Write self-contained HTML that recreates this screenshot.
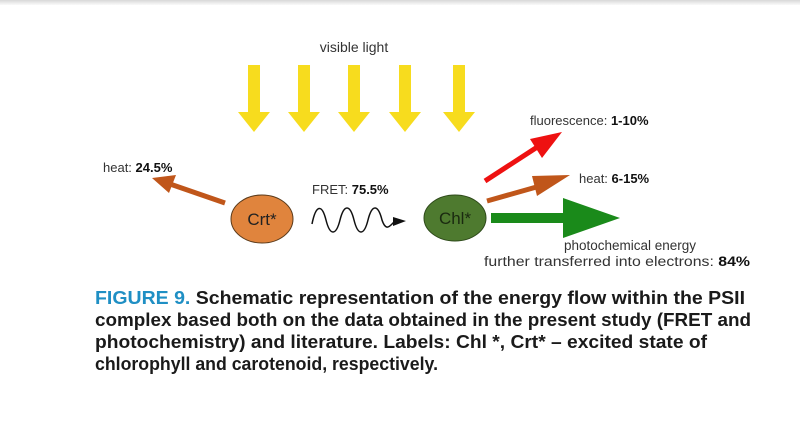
<!DOCTYPE html>
<html><head><meta charset="utf-8"><style>
html,body{margin:0;padding:0;background:#fff;}
svg{display:block;}
</style></head><body>
<svg width="800" height="440" viewBox="0 0 800 440" xmlns="http://www.w3.org/2000/svg" font-family="Liberation Sans, DejaVu Sans, sans-serif">
<defs>
<linearGradient id="tg" x1="0" y1="0" x2="0" y2="1"><stop offset="0" stop-color="#d8d8d8"/><stop offset="1" stop-color="#fafafa"/></linearGradient>
</defs>
<rect x="0" y="0" width="800" height="5" fill="url(#tg)"/>
<text x="354" y="52" font-size="14" fill="#333" text-anchor="middle">visible light</text>
<g fill="#f7dc1e">
<path d="M248,65h12v47h10l-16,20l-16,-20h10z"/>
<path d="M298,65h12v47h10l-16,20l-16,-20h10z"/>
<path d="M348,65h12v47h10l-16,20l-16,-20h10z"/>
<path d="M399,65h12v47h10l-16,20l-16,-20h10z"/>
<path d="M453,65h12v47h10l-16,20l-16,-20h10z"/>
</g>
<text x="103" y="172" font-size="13" fill="#333">heat: <tspan font-weight="bold" fill="#111">24.5%</tspan></text>
<line x1="225" y1="203" x2="170" y2="184" stroke="#c0561a" stroke-width="5"/>
<path d="M152,178 L176,175 L169,193 Z" fill="#c0561a"/>
<ellipse cx="262" cy="219" rx="31" ry="24" fill="#e0843d" stroke="#5a3a1a" stroke-width="1"/>
<text x="262" y="225" font-size="17" fill="#222" text-anchor="middle">Crt*</text>
<text x="312" y="194" font-size="13" fill="#333">FRET: <tspan font-weight="bold" fill="#111">75.5%</tspan></text>
<path d="M312,224 C316,204 322,204 326,220 C330,236 336,236 340,220 C344,204 350,204 354,220 C358,236 364,236 368,220 C372,204 378,204 382,220 C386,232 390,226 394,222" fill="none" stroke="#111" stroke-width="1.5"/>
<path d="M393,217 L406,221 L393,226 Z" fill="#111"/>
<ellipse cx="455" cy="218" rx="31" ry="23" fill="#4e7a2f" stroke="#2e4a1a" stroke-width="1"/>
<text x="455" y="224" font-size="17" fill="#1a2a10" text-anchor="middle">Chl*</text>
<text x="530" y="125" font-size="13" fill="#333">fluorescence: <tspan font-weight="bold" fill="#111">1-10%</tspan></text>
<line x1="485" y1="181" x2="545" y2="142" stroke="#ee1111" stroke-width="5"/>
<path d="M562,132 L530,139 L542,158 Z" fill="#ee1111"/>
<text x="579" y="183" font-size="13" fill="#333">heat: <tspan font-weight="bold" fill="#111">6-15%</tspan></text>
<line x1="487" y1="201" x2="540" y2="186" stroke="#c0561a" stroke-width="5"/>
<path d="M570,175 L532,176 L537,196 Z" fill="#c0561a"/>
<path d="M491,213h72v-15l57,20l-57,20v-15h-72z" fill="#1a8a1a"/>
<text x="630" y="250" font-size="13.5" fill="#333" text-anchor="middle">photochemical energy</text>
<text x="484" y="266" font-size="13.5" fill="#333" textLength="266" lengthAdjust="spacingAndGlyphs">further transferred into electrons: <tspan font-weight="bold" fill="#111">84%</tspan></text>
<g font-size="18" font-weight="bold" fill="#1a1a1a">
<text x="95" y="304" textLength="650" lengthAdjust="spacingAndGlyphs"><tspan fill="#1f8fc4">FIGURE 9.</tspan>  Schematic representation of the energy flow within the PSII</text>
<text x="95" y="326" textLength="656" lengthAdjust="spacingAndGlyphs">complex based both on the data obtained in the present study (FRET and</text>
<text x="95" y="348" textLength="612" lengthAdjust="spacingAndGlyphs">photochemistry) and literature. Labels: Chl *, Crt* – excited state of</text>
<text x="95" y="370" textLength="343" lengthAdjust="spacingAndGlyphs">chlorophyll and carotenoid, respectively.</text>
</g>
</svg>
</body></html>
